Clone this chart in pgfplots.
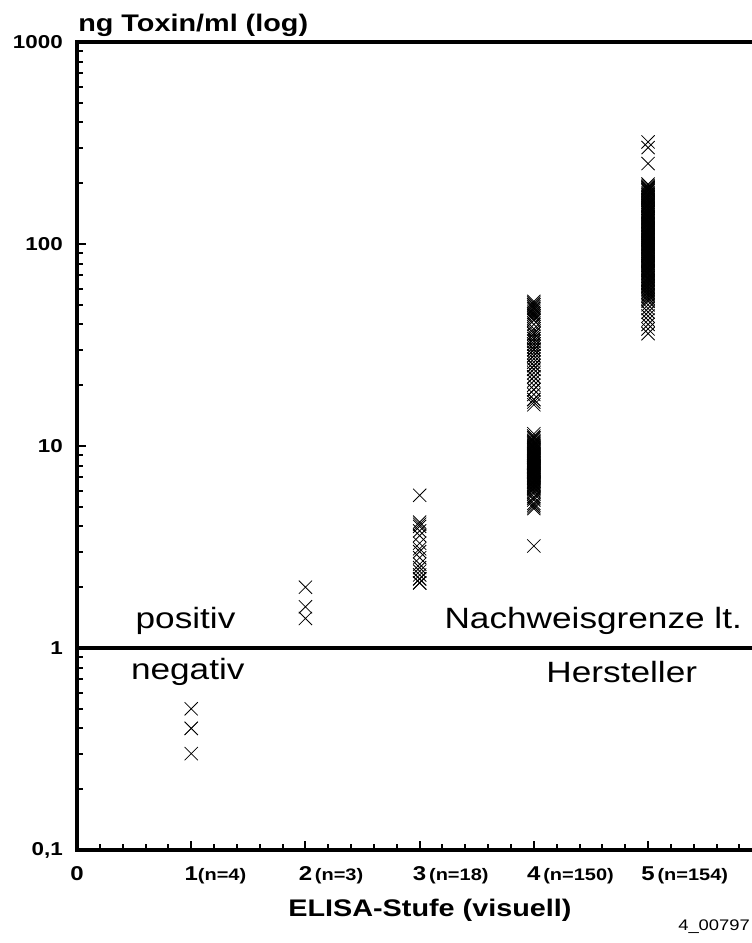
\documentclass[border=0pt]{standalone}
\usepackage{fontspec}
\setmainfont{Liberation Sans}[FakeStretch=1.2]
\usepackage{pgfplots}
\pgfplotsset{compat=1.18}
\newcommand{\nn}[1]{\rlap{\fontsize{12.5}{13}\selectfont\bfseries #1}}
\newcommand{\xl}[1]{{\fontsize{15}{16}\selectfont\bfseries #1}}
\newcommand{\yl}[1]{{\fontsize{14}{15}\selectfont\bfseries #1}}
\begin{document}
\begin{tikzpicture}
\begin{axis}[
  scale only axis, width=506.25pt, height=606pt,
  ymode=log, ymin=0.1, ymax=1000, xmin=0, xmax=5.91,
  axis line style={draw=none},
  xtick pos=bottom, ytick pos=left,
  tick align=inside,
  every tick/.style={line width=1.5pt, black},
  major tick length=7pt, minor tick length=4.5pt,
  xtick={0,1,2,3,4,5},
  minor xtick={0.2,0.4,0.6,0.8,1.2,1.4,1.6,1.8,2.2,2.4,2.6,2.8,3.2,3.4,3.6,3.8,4.2,4.4,4.6,4.8,5.2,5.4,5.6,5.8},
  xticklabels={\xl{0}, \xl{1}\nn{(n=4)}, \xl{2}\nn{\,(n=3)}, \xl{3}\nn{\,(n=18)}, \xl{4}\nn{\,(n=150)}, \xl{5}\nn{\,(n=154)}},
  xticklabel style={anchor=base, inner sep=0pt, yshift=-22.5pt},
  ytick={0.1,1,10,100,1000},
  minor ytick={0.2,0.3,0.4,0.5,0.6,0.7,0.8,0.9,2,3,4,5,6,7,8,9,20,30,40,50,60,70,80,90,200,300,400,500,600,700,800,900},
  yticklabels={\yl{0,1},\yl{1},\yl{10},\yl{100},\yl{1000}},
  yticklabel style={anchor=east, inner sep=0pt, xshift=-10.5pt},
  clip=false,
]
% group 1
\addplot[only marks, mark=x, mark size=7pt, mark options={line width=0.6pt}] coordinates {
(1,0.5) (1,0.4) (1,0.4) (1,0.3)};
% group 2
\addplot[only marks, mark=x, mark size=7pt, mark options={line width=0.6pt}] coordinates {
(2,2.0) (2,1.6) (2,1.4)};
% group 3
\addplot[only marks, mark=x, mark size=7pt, mark options={line width=0.6pt}] coordinates {
(3,5.7) (3,4.2) (3,4.1) (3,4.0) (3,3.8) (3,3.6) (3,3.3) (3,3.1) (3,3.0) (3,2.8)
(3,2.6) (3,2.5) (3,2.4) (3,2.3) (3,2.2) (3,2.2) (3,2.1) (3,2.1)};
% group 4
\addplot[only marks, mark=x, mark size=7pt, mark options={line width=0.6pt}] coordinates {
(4,52) (4,51) (4,50) (4,49) (4,48) (4,47) (4,46) (4,45) (4,44) (4,43) (4,42) (4,40)
(4,38) (4,37) (4,36) (4,35) (4,34) (4,33) (4,33) (4,32) (4,32) (4,31) (4,31) (4,30)
(4,30) (4,29) (4,28) (4,27) (4,26) (4,25) (4,24) (4,24) (4,23) (4,22) (4,21) (4,20)
(4,19) (4,18) (4,17) (4,16.5) (4,16) (4,48) (4,45) (4,42) (4,34) (4,32) (4,30) (4,28)
(4,25) (4,22) (4,19) (4,17) (4,50) (4,44) (4,36)
(4,11.5) (4,11.2) (4,11.0) (4,10.8) (4,10.5) (4,10.3) (4,10.1) (4,10.0) (4,9.8) (4,9.6)
(4,9.5) (4,9.4) (4,9.2) (4,9.1) (4,9.0) (4,8.9) (4,8.8) (4,8.7) (4,8.6) (4,8.5)
(4,8.4) (4,8.3) (4,8.2) (4,8.1) (4,8.0) (4,7.9) (4,7.8) (4,7.7) (4,7.6) (4,7.5)
(4,7.4) (4,7.3) (4,7.2) (4,7.1) (4,7.0) (4,6.9) (4,6.8) (4,6.7) (4,6.6) (4,6.5)
(4,6.4) (4,6.3) (4,6.2) (4,6.1) (4,6.0) (4,5.8) (4,5.6) (4,5.4) (4,5.2) (4,5.0)
(4,11.0) (4,10.6) (4,10.2) (4,9.9) (4,9.7) (4,9.3) (4,9.0) (4,8.8) (4,8.6) (4,8.4)
(4,8.2) (4,8.0) (4,7.8) (4,7.6) (4,7.4) (4,7.2) (4,7.0) (4,6.8) (4,6.6) (4,6.4)
(4,6.2) (4,9.5) (4,9.1) (4,8.7) (4,8.3) (4,7.9) (4,7.5) (4,7.1) (4,6.7) (4,6.3)
(4,10.4) (4,9.8) (4,9.2) (4,8.5) (4,8.1) (4,7.7) (4,7.3) (4,6.9) (4,6.5) (4,5.9)
(4,5.5) (4,5.1) (4,4.9) (4,8.9) (4,3.2)};
% group 5
\addplot[only marks, mark=x, mark size=7pt, mark options={line width=0.6pt}] coordinates {
(5,320) (5,300) (5,250)
(5,195) (5,190) (5,185) (5,180) (5,176) (5,172) (5,168) (5,164) (5,160) (5,156)
(5,152) (5,148) (5,145) (5,142) (5,139) (5,136) (5,133) (5,130) (5,127) (5,124)
(5,121) (5,118) (5,115) (5,112) (5,110) (5,108) (5,106) (5,104) (5,102) (5,100)
(5,98) (5,96) (5,94) (5,92) (5,90) (5,88) (5,86) (5,84) (5,82) (5,80) (5,78) (5,76)
(5,74) (5,72) (5,70) (5,68) (5,66) (5,64) (5,62) (5,60) (5,58) (5,56) (5,54) (5,52)
(5,50) (5,48) (5,46) (5,44) (5,42) (5,40) (5,38) (5,36)
(5,198) (5,188) (5,183) (5,178) (5,174) (5,170) (5,166) (5,162) (5,158) (5,154)
(5,150) (5,146) (5,143) (5,140) (5,137) (5,134) (5,131) (5,128) (5,125) (5,122)
(5,119) (5,116) (5,113) (5,111) (5,109) (5,107) (5,105) (5,103) (5,101) (5,99)
(5,97) (5,95) (5,93) (5,91) (5,89) (5,87) (5,85) (5,83) (5,81) (5,79) (5,77) (5,75)
(5,73) (5,71) (5,69) (5,67) (5,65) (5,63) (5,61) (5,59) (5,57) (5,55)
(5,192) (5,186) (5,175) (5,165) (5,155) (5,145) (5,135) (5,125) (5,117) (5,108)
(5,100) (5,96) (5,92) (5,88) (5,84) (5,80) (5,76) (5,72) (5,68) (5,64) (5,60) (5,58)
(5,56) (5,53) (5,190) (5,170) (5,150) (5,130) (5,120) (5,114) (5,105) (5,98) (5,90)
(5,82) (5,74) (5,66) (5,62)};
% detection limit line
\draw[line width=2.4pt] (axis cs:0,1) -- (axis cs:5.91,1);
% axis lines (left, bottom, top; no right line)
\draw[line width=2.4pt, line cap=rect] (rel axis cs:1,1) -- (rel axis cs:0,1) -- (rel axis cs:0,0) -- (rel axis cs:1,0);
% annotations
\node[font=\fontsize{22}{23}\selectfont] at (axis cs:0.95,1.36) {positiv};
\node[font=\fontsize{22}{23}\selectfont] at (axis cs:0.97,0.76) {negativ};
\node[font=\fontsize{22}{23}\selectfont] at (axis cs:4.52,1.36) {Nachweisgrenze lt.};
\node[font=\fontsize{22}{23}\selectfont] at (axis cs:4.77,0.76) {Hersteller};
% title and x label
\node[font=\fontsize{18}{19}\selectfont\bfseries, anchor=base west, inner sep=0pt] at ([xshift=0.75pt, yshift=7.5pt]rel axis cs:0,1) {ng Toxin/ml (log)};
\node[font=\fontsize{18}{19}\selectfont\bfseries, anchor=base, inner sep=0pt] at ([yshift=-50pt]axis cs:3.09,0.1) {ELISA-Stufe (visuell)};
\end{axis}
\node[font=\fontsize{11.5}{12}\selectfont, anchor=base west, inner sep=0pt] at (450.75pt,-60pt) {4\_00797};
\pgfresetboundingbox
\path[use as bounding box] (-57.75pt,-69.75pt) rectangle (506.25pt,637.5pt);
\end{tikzpicture}
\end{document}
